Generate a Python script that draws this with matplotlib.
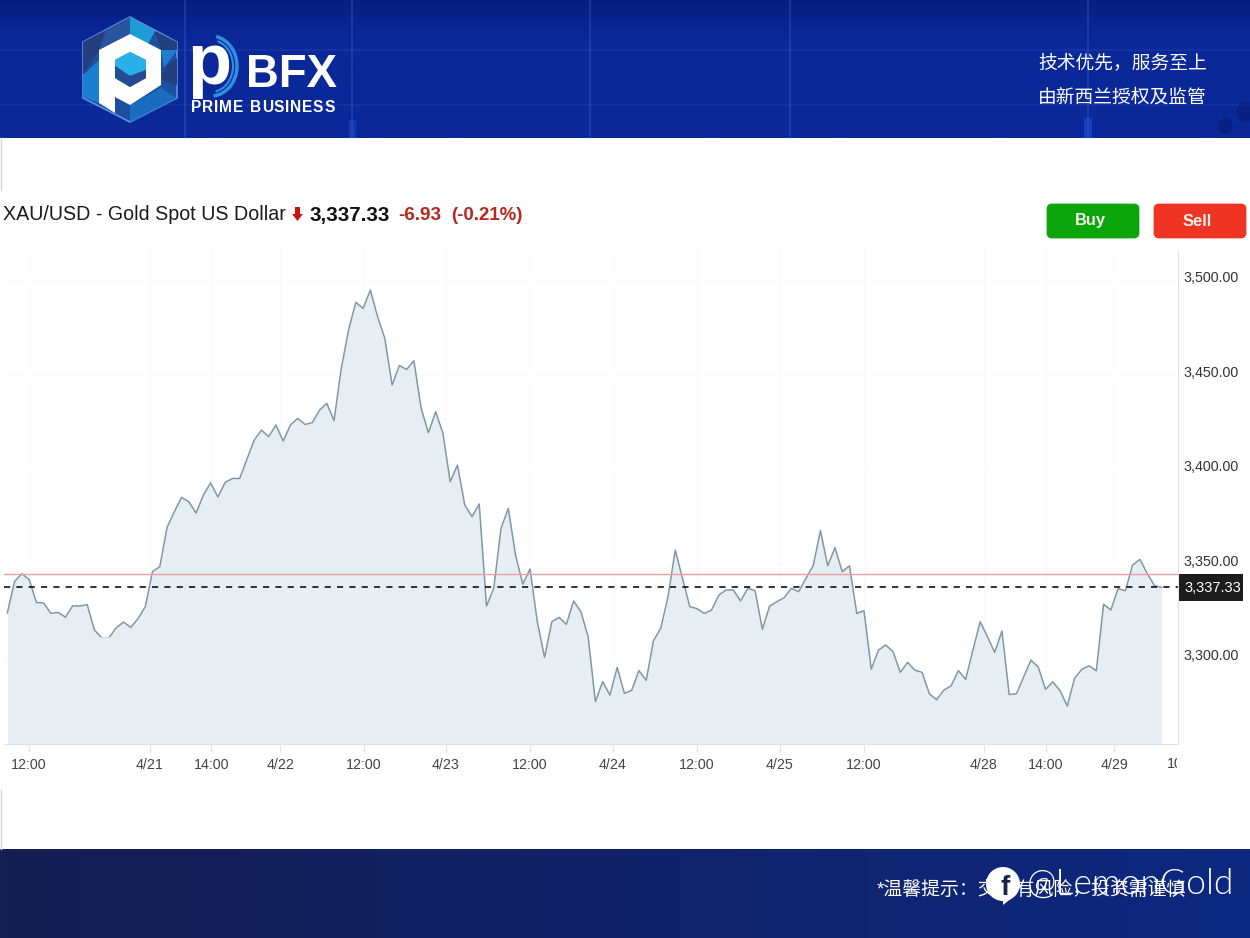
"""Gold spot chart with the PBFX banner around it."""

import matplotlib

matplotlib.use("Agg")
import matplotlib.pyplot as plt
import numpy as np
from matplotlib import font_manager
from matplotlib.patches import Arc, Circle, FancyBboxPatch, Polygon, Rectangle
from matplotlib.transforms import ScaledTranslation

plt.rcParams["font.family"] = ["Liberation Sans", "Noto Sans CJK SC", "DejaVu Sans"]

PRICES = [
    3323.9, 3340.5, 3344.6, 3341.6, 3329.4, 3329.1, 3323.6, 3324.1, 3321.6, 3327.6,
    3327.5, 3328.2, 3314.8, 3310.7, 3310.7, 3316.0, 3319.0, 3316.2, 3320.8, 3327.1,
    3345.8, 3348.3, 3369.1, 3377.4, 3385.0, 3382.7, 3376.7, 3386.2, 3392.7, 3385.2,
    3392.9, 3395.0, 3395.0, 3405.1, 3415.3, 3420.6, 3417.1, 3423.3, 3414.8, 3423.3,
    3426.8, 3423.6, 3424.5, 3431.2, 3434.7, 3425.6, 3453.3, 3473.5, 3488.2, 3485.0,
    3494.7, 3480.6, 3469.1, 3444.4, 3454.8, 3452.7, 3457.3, 3432.1, 3419.2, 3430.3,
    3418.9, 3393.3, 3402.1, 3381.0, 3374.8, 3381.5, 3327.5, 3336.9, 3368.6, 3379.2,
    3354.5, 3339.1, 3347.1, 3319.2, 3300.3, 3319.2, 3321.5, 3317.8, 3330.2, 3324.5,
    3311.3, 3276.9, 3287.5, 3280.4, 3295.0, 3281.3, 3282.9, 3293.3, 3288.2, 3309.2,
    3315.7, 3332.4, 3357.1, 3342.1, 3327.2, 3326.1, 3323.6, 3325.4, 3333.3, 3336.0,
    3336.0, 3330.2, 3336.9, 3335.6, 3315.2, 3327.5, 3329.8, 3331.9, 3336.9, 3335.1,
    3342.1, 3348.8, 3367.4, 3348.8, 3358.4, 3345.7, 3348.8, 3323.6, 3325.0, 3294.1,
    3304.2, 3306.9, 3303.3, 3292.4, 3297.7, 3293.6, 3292.4, 3281.1, 3277.9, 3283.0,
    3285.3, 3293.3, 3288.7, 3304.2, 3319.2, 3311.3, 3303.0, 3314.3, 3280.7, 3281.1,
    3290.1, 3298.9, 3295.2, 3283.4, 3287.4, 3282.7, 3274.6, 3289.2, 3294.0, 3295.9,
    3293.3, 3328.5, 3325.4, 3336.7, 3335.6, 3349.2, 3352.2, 3344.8, 3338.3, 3337.33,
]
LAST = 3337.33
PREV_CLOSE = 3344.26
X_TICKS = [3.0, 19.6, 28.1, 37.6, 49.1, 60.4, 72.0, 83.4, 95.0, 106.4, 118.0, 134.5, 143.0, 152.5]
X_LABELS = ["12:00", "4/21", "14:00", "4/22", "12:00", "4/23", "12:00", "4/24",
            "12:00", "4/25", "12:00", "4/28", "14:00", "4/29"]
Y_TICKS = [3300, 3350, 3400, 3450, 3500]

W, H = 1250, 938
FILL = "#e6eef4"
LINE = "#7f99a4"

# the reference text is condensed, so use the narrow cut if it is there
installed = {f.name for f in font_manager.fontManager.ttflist}
has_narrow = "Liberation Sans Narrow" in installed
NARROW = ["Liberation Sans Narrow" if has_narrow else "Liberation Sans", "DejaVu Sans"]
K = 1.0 if has_narrow else 0.82

fig = plt.figure(figsize=(W / 100, H / 100), dpi=100, facecolor="white")

# pixel-coordinate layer for everything that is not the chart
bg = fig.add_axes([0, 0, 1, 1], zorder=0)
bg.axis("off")

# top banner
col = np.linspace(0, 1, 140)[:, None, None]
top = np.array([8, 30, 128]) * (1 - col * 4).clip(0, 1) + np.array([10, 40, 152]) * (col * 4).clip(0, 1)
bg.imshow(np.repeat(top / 255, 10, axis=1), extent=[0, W, 138, 0], aspect="auto", zorder=1)
for x in (185, 352, 590, 790, 1088):
    bg.plot([x, x], [0, 138], color="#5f86e8", lw=1.2, alpha=0.25, zorder=2)
for y in (50, 105):
    bg.plot([0, W], [y, y], color="#5f86e8", lw=1.2, alpha=0.15, zorder=2)
bg.add_patch(Rectangle((1084, 118), 8, 20, color="#2a5be0", alpha=0.45, lw=0, zorder=2))
bg.add_patch(Rectangle((349, 120), 7, 18, color="#2a5be0", alpha=0.35, lw=0, zorder=2))
bg.add_patch(Circle((1225, 126), 8, color="#06196b", alpha=0.5, lw=0, zorder=2))
bg.add_patch(Circle((1246, 112), 10, color="#06196b", alpha=0.5, lw=0, zorder=2))

# bottom banner
row = np.linspace(0, 1, 200)[None, :, None]
bottom = np.array([22, 30, 82]) * (1 - row) + np.array([12, 40, 128]) * row
bg.imshow(np.repeat(bottom / 255, 4, axis=0), extent=[0, W, 938, 849], aspect="auto", zorder=1)

# logo hexagon
bg.add_patch(Polygon([(130, 17), (177, 42), (177, 98), (130, 122), (83, 98), (83, 42)],
                     closed=True, fc="#1c4f9f", ec="#5f8fe0", lw=1.2, zorder=3))
for pts, c in (
    ([(130, 17), (155, 31), (146, 48), (130, 34)], "#1f9bd8"),
    ([(130, 17), (106, 30), (99, 50), (130, 34)], "#27569f"),
    ([(155, 31), (177, 42), (177, 50), (161, 50)], "#243f7e"),
    ([(161, 50), (177, 50), (164, 68)], "#1a7fd0"),
    ([(164, 68), (177, 58), (177, 85), (161, 80)], "#243f7e"),
    ([(83, 42), (106, 30), (99, 50), (83, 75)], "#243f7e"),
    ([(83, 75), (99, 60), (99, 103), (83, 97)], "#1a7fd0"),
    ([(130, 105), (161, 88), (177, 98), (130, 122)], "#1a6cc0"),
):
    bg.add_patch(Polygon(pts, closed=True, fc=c, lw=0, zorder=3))
bg.add_patch(Polygon([(130, 34), (161, 50), (161, 85), (130, 105), (115, 97), (115, 113), (99, 103), (99, 50)],
                     closed=True, fc="white", lw=0, zorder=4))
bg.add_patch(Polygon([(130, 52), (146, 60), (146, 78), (130, 87), (115, 78), (115, 60)],
                     closed=True, fc="#1c5aa8", lw=0, zorder=5))
bg.add_patch(Polygon([(130, 52), (146, 60), (146, 70), (130, 76), (115, 66), (115, 60)],
                     closed=True, fc="#27b1e6", lw=0, zorder=5))
bg.add_patch(Polygon([(115, 66), (130, 76), (146, 70), (146, 78), (130, 87), (115, 78)],
                     closed=True, fc="#254c93", lw=0, zorder=6))

# wordmark
bg.add_patch(Arc((211, 66), 52, 60, theta1=-80, theta2=85, ec="#2f8fe0", lw=2.5, zorder=3))
bg.add_patch(Arc((211, 66), 44, 52, theta1=-75, theta2=80, ec="#2f8fe0", lw=1.5, zorder=3))
bg.text(187, 84, "p", color="white", fontsize=52, fontweight="bold", va="baseline", zorder=7)
bg.text(246, 87, "BFX", color="white", fontsize=40 * K, family=NARROW, fontweight="bold",
        va="baseline", zorder=7)
name_x = 191
for ch in "PRIME BUSINESS":
    t = bg.text(name_x, 108, ch, color="white", fontsize=11.2, fontweight="bold", va="center", zorder=7)
    name_x += t.get_window_extent(fig.canvas.get_renderer()).width + 0.8 if ch != " " else 6

bg.text(1038, 63, "技术优先，服务至上", color="white", fontsize=13.5, va="center", zorder=7)
bg.text(1038, 98, "由新西兰授权及监管", color="white", fontsize=13.5, va="center", zorder=7)

# header line
bg.text(3, 215, "XAU/USD - Gold Spot US Dollar", color="#1a1a1a", fontsize=17.3 * K, family=NARROW,
        va="center", zorder=7)
bg.add_patch(Polygon([(295, 207), (300, 207), (300, 214), (303, 214), (297.5, 221), (292, 214), (295, 214)],
                     closed=True, fc="#c8160f", lw=0, zorder=7))
bg.text(310, 215, "3,337.33", color="#111111", fontsize=18 * K, family=NARROW, fontweight="bold",
        va="center", zorder=7)
bg.text(398, 215, "-6.93", color="#b5261e", fontsize=16.6 * K, family=NARROW, fontweight="bold",
        va="center", zorder=7)
bg.text(451, 215, "(-0.21%)", color="#b5261e", fontsize=16.4 * K, family=NARROW, fontweight="bold",
        va="center", zorder=7)

# buttons
for x0, c, name in ((1046, "#0ca60c", "Buy"), (1153, "#ee3524", "Sell")):
    bg.add_patch(FancyBboxPatch((x0 + 2, 205), 90, 32, boxstyle="round,pad=0,rounding_size=4",
                                fc=c, ec=c, lw=2, zorder=7))
    bg.text(x0 + 44, 221, name, color="#f2f2e8", fontsize=14.5 * K, family=NARROW, fontweight="bold",
            ha="center", va="center", zorder=8)

# left edge of the page
bg.plot([0.5, 0.5], [138, 190], color="#d8d8d8", lw=1, zorder=2)
bg.plot([0.5, 0.5], [790, 849], color="#d8d8d8", lw=1, zorder=2)

# clipped last time label
clip_box = Rectangle((1150, 750), 27, 30, transform=bg.transData)
t = bg.text(1167, 764, "10:00", color="#444444", fontsize=12.5 * K, family=NARROW, va="center",
            zorder=7, clip_on=True)
t.set_clip_path(clip_box)

# last price box
bg.add_patch(Rectangle((1178, 574), 65, 27, fc="#1c1c1c", lw=0, zorder=3))
bg.text(1184, 587.5, f"{LAST:,.2f}", color="white", fontsize=12.8 * K, family=NARROW, va="center", zorder=4)

# footer
bg.text(877, 890, "*温馨提示：交易有风险，投资需谨慎", color="white", fontsize=13.6, va="center", zorder=7)
bg.add_patch(Circle((1003, 884), 17, fc="white", lw=0, zorder=8))
bg.add_patch(Polygon([(1003, 890), (1012, 898), (1003, 905)], closed=True, fc="white", lw=0, zorder=8))
bg.text(1005, 888, "f", color="#16224f", fontsize=20, fontweight="bold", ha="center", va="center", zorder=9)
bg.text(1027, 884, "@LemonGold", color="white", fontsize=25.6, family="Lato", fontweight=300, va="center", zorder=9)

bg.set_xlim(0, W)
bg.set_ylim(H, 0)

# chart
ax = fig.add_axes([4 / W, 1 - 744 / H, 1174 / W, 494 / H], zorder=1)
ax.patch.set_alpha(0)
idx = np.arange(len(PRICES))
ax.fill_between(idx, PRICES, 3200, color=FILL, lw=0, zorder=2)
ax.plot(idx, PRICES, color=LINE, lw=1.1, zorder=3)
ax.plot([12.3, 14.9], [PRICES[13], PRICES[14]], color=FILL, lw=1.8, zorder=4)
ax.axhline(PREV_CLOSE, color="#e8a0a0", lw=1, zorder=5)
ax.axhline(LAST, color="#111111", lw=1.2, dashes=(3.7, 3.7), zorder=5)

ax.set_xlim(-0.46, 161.25)
ax.set_ylim(3254.5, 3515.9)
ax.set_xticks(X_TICKS, X_LABELS, family=NARROW)
ax.set_yticks(Y_TICKS, [f"{v:,.2f}" for v in Y_TICKS], family=NARROW)
ax.yaxis.tick_right()
ax.grid(color="#fafafa", lw=1, zorder=1)
ax.tick_params(axis="x", length=6, color="#e2e2e2", labelsize=12.5 * K, labelcolor="#444444", pad=4)
ax.tick_params(axis="y", length=0, labelsize=12.5 * K, labelcolor="#333333", pad=4)
shift = ScaledTranslation(0, 2.5 / 72, fig.dpi_scale_trans)
for lab in ax.get_yticklabels():
    lab.set_transform(lab.get_transform() + shift)
for side in ("top", "left"):
    ax.spines[side].set_visible(False)
for side in ("bottom", "right"):
    ax.spines[side].set_color("#e2e2e2")

fig.savefig("out.png", dpi=100)
